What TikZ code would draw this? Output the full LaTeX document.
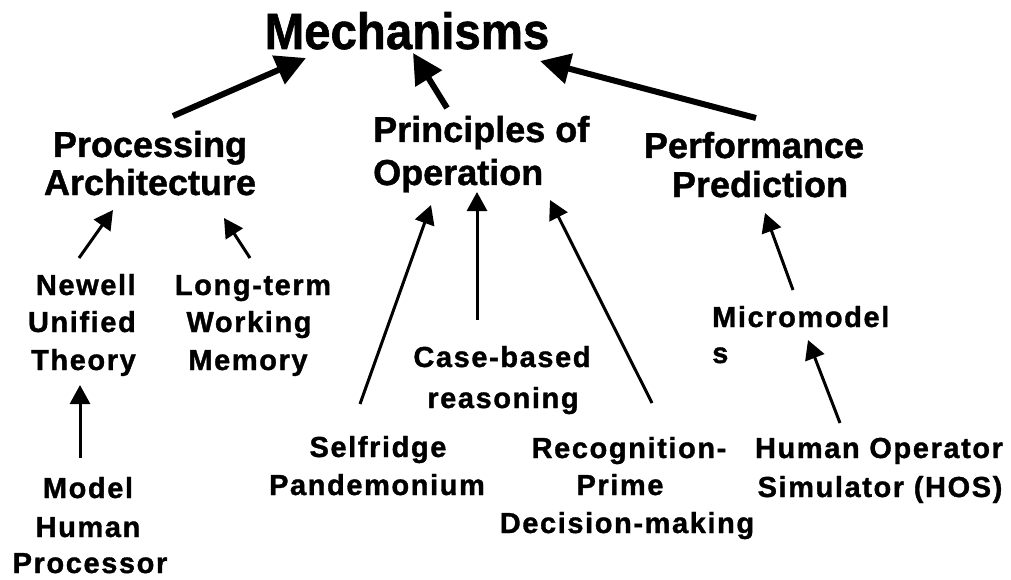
\documentclass[tikz,border=0pt]{standalone}
\usepackage{fontspec}
\setmainfont{Liberation Sans}[BoldFeatures={FakeBold=1.2}]
\newfontfamily\spacedfont{Liberation Sans}[LetterSpace=5.5, BoldFeatures={FakeBold=1.2}]
\usetikzlibrary{arrows.meta}
\begin{document}
\begin{tikzpicture}[x=1pt,y=-1pt,
  toplab/.style={inner sep=0pt, anchor=base, font=\fontsize{36}{40}\selectfont\bfseries},
  sublab/.style={inner sep=0pt, anchor=base, font=\spacedfont\fontsize{29}{33}\selectfont\bfseries},
  bigarrow/.style={line width=6pt, -{Triangle[length=30pt,width=30pt]}},
  smallarrow/.style={line width=3pt, -{Triangle[length=19pt,width=20pt]}}]
\fill[white] (0,0) rectangle (1011,580);
\useasboundingbox (0,0) rectangle (1011,580);

% title
\node[inner sep=0pt, anchor=base, font=\fontsize{51}{60}\selectfont\bfseries] (mech) at (407,49) {\scalebox{0.93}[1]{Mechanisms}};

% second level
\node[toplab] (pa1) at (150,157) {Processing};
\node[toplab] (pa2) at (150,195) {Architecture};
\node[toplab, anchor=base west] (po1) at (373,142) {Principles of};
\node[toplab, anchor=base west] (po2) at (373,185) {Operation};
\node[toplab] (pp1) at (754,158) {Performance};
\node[toplab] (pp2) at (760,197) {Prediction};

% third level
\node[sublab, anchor=base east] (nu1) at (136,295) {Newell};
\node[sublab, anchor=base east] (nu2) at (136,332) {Unified};
\node[sublab, anchor=base east] (nu3) at (136,370) {Theory};
\node[sublab] (lt1) at (253,295) {Long-term};
\node[sublab] (lt2) at (249,332) {Working};
\node[sublab] (lt3) at (248,370) {Memory};
\node[sublab] (mh1) at (88,498) {Model};
\node[sublab] (mh2) at (88,537) {Human};
\node[sublab] (mh3) at (90,573) {Processor};
\node[sublab] (sp1) at (378,457) {Selfridge};
\node[sublab] (sp2) at (377,495) {Pandemonium};
\node[sublab] (cb1) at (502,367) {Case-based};
\node[sublab] (cb2) at (503,408) {reasoning};
\node[sublab] (rp1) at (629,458) {Recognition-};
\node[sublab] (rp2) at (620,495) {Prime};
\node[sublab] (rp3) at (627,533) {Decision-making};
\node[sublab, anchor=base west] (mm1) at (712,327) {Micromodel};
\node[sublab, anchor=base west] (mm2) at (712,363) {s};
\node[sublab] (ho1) at (879,458) {Human Operator};
\node[sublab] (ho2) at (880,497) {Simulator (HOS)};

% thick arrows
\draw[bigarrow] ([shift={(23,-41)}]pa1.base) -- ([shift={(-101,9)}]mech.base);
\draw[bigarrow] ([shift={(74,-34)}]po1.base west) -- ([shift={(6,4)}]mech.base);
\draw[bigarrow] ([shift={(2,-40)}]pp1.base) -- ([shift={(133,12)}]mech.base);

% thin arrows
\draw[smallarrow] ([shift={(-57,-37)}]nu1.base east) -- ([shift={(-37,15)}]pa2.base);
\draw[smallarrow] ([shift={(-3,-37)}]lt1.base) -- ([shift={(74,23)}]pa2.base);
\draw[smallarrow] ([shift={(-8,-40)}]mh1.base) -- ([shift={(-56,15)}]nu3.base east);
\draw[smallarrow] ([shift={(-18,-53)}]sp1.base) -- ([shift={(58,20)}]po2.base west);
\draw[smallarrow] ([shift={(-25,-47)}]cb1.base) -- ([shift={(104,7)}]po2.base west);
\draw[smallarrow] ([shift={(23,-55)}]rp1.base) -- ([shift={(177,15)}]po2.base west);
\draw[smallarrow] ([shift={(81,-37)}]mm1.base west) -- ([shift={(5,16)}]pp2.base);
\draw[smallarrow] ([shift={(-39,-35)}]ho1.base) -- ([shift={(96,-23)}]mm2.base west);
\end{tikzpicture}
\end{document}
